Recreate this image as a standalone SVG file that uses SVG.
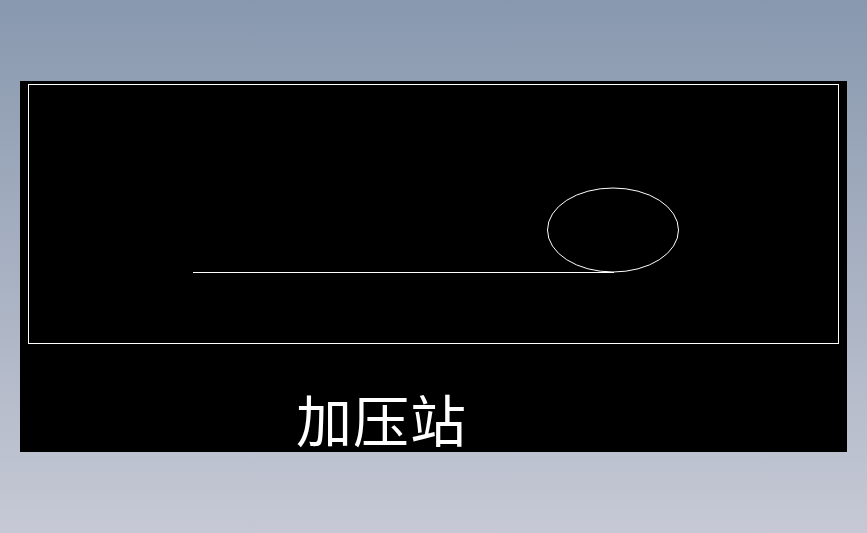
<svg xmlns="http://www.w3.org/2000/svg" width="867" height="533" viewBox="0 0 867 533">
  <defs>
    <linearGradient id="bg" x1="0" y1="0" x2="0" y2="1">
      <stop offset="0" stop-color="#8898ae"/>
      <stop offset="1" stop-color="#c6c9d5"/>
    </linearGradient>
    <style>
      .ln { fill: none; stroke: #ffffff; stroke-width: 1; }
      .lbl { font-family: "Noto Sans CJK SC", "Noto Sans", sans-serif; font-size: 56px; fill: #ffffff; }
    </style>
  </defs>
  <rect x="0" y="0" width="867" height="533" fill="url(#bg)"/>
  <rect x="20" y="81" width="827" height="371" fill="#000000"/>
  <rect class="ln" x="28.5" y="84.5" width="810" height="259"/>
  <g id="tank">
    <ellipse class="ln" cx="613" cy="230" rx="65.5" ry="42"/>
  </g>
  <g id="connectors">
    <line class="ln" x1="193" y1="272.5" x2="614" y2="272.5"/>
  </g>
  <g id="label">
    <text class="lbl" x="296" y="442" letter-spacing="1">加压站</text>
  </g>
</svg>
